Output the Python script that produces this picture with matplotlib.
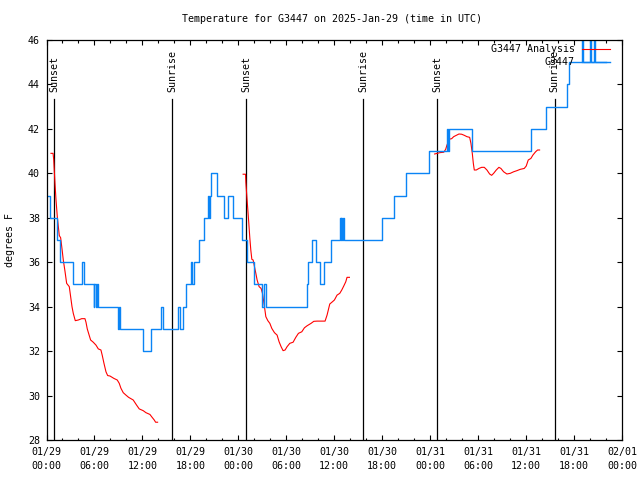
import matplotlib
matplotlib.use('Agg')
import matplotlib.pyplot as plt
import matplotlib.dates as mdates
from datetime import datetime, timedelta

plt.rcParams['font.family'] = 'DejaVu Sans Mono'
plt.rcParams['font.size'] = 7.2

base = datetime(2025, 1, 29)

# observed temperature (hours after 01/29 00:00 UTC, value held until next change)
obs_h = [0.23, 0.5, 1.3, 1.75, 3.3, 4.45, 4.65, 5.9, 6.0, 6.2, 6.3, 6.45,
         8.9, 9.05, 9.2, 12.1, 13.1, 14.35, 14.55, 16.4, 16.7, 17.1, 17.4,
         18.05, 18.25, 18.45, 19.1, 19.7, 19.9, 20.15, 20.3, 20.45, 20.6,
         21.35, 22.2, 22.75, 23.3, 24.45, 25.05, 25.95, 26.9, 27.25, 27.42,
         32.55, 32.75, 33.2, 33.7, 34.2, 34.73, 35.6, 36.7, 36.8, 36.9, 37.0,
         37.1, 37.25, 42.0, 43.45, 44.95, 47.85, 50.05, 50.25, 50.4, 53.2,
         60.65, 62.55, 65.1, 65.35, 66.95, 67.1, 67.95, 68.1, 68.45, 68.6, 70.0]
obs_t = [39, 38, 37, 36, 35, 36, 35, 34, 35, 34, 35, 34,
         33, 34, 33, 32, 33, 34, 33, 34, 33, 34, 35,
         36, 35, 36, 37, 38, 38, 39, 38, 39, 40,
         39, 38, 39, 38, 37, 36, 35, 34, 35, 34,
         35, 36, 37, 36, 35, 36, 37, 38, 37, 38, 37,
         38, 37, 38, 39, 40, 41, 42, 41, 42, 41,
         42, 43, 44, 45, 47, 45, 47, 45, 47, 45, 45]

# analysis temperature, one segment per night
ana1_h = [0.56, 0.82, 0.9, 1.06, 1.19, 1.35, 1.48, 1.6, 1.77, 1.94, 2.1, 2.31,
          2.52, 2.85, 3.02, 3.19, 3.35, 3.6, 3.98, 4.4, 4.81, 4.94, 5.1, 5.35,
          5.52, 5.85, 6.19, 6.48, 6.81, 6.98, 7.19, 7.44, 7.65, 7.94, 8.44,
          8.85, 9.1, 9.31, 9.6, 9.94, 10.27, 10.85, 11.27, 11.6, 12.1, 12.44,
          12.94, 13.15, 13.48, 13.65, 13.9]
ana1_t = [40.9, 40.9, 40.63, 39.55, 38.8, 38.05, 37.6, 37.2, 37.1, 36.6, 36.1,
          35.6, 35.05, 34.9, 34.45, 34.0, 33.7, 33.37, 33.4, 33.46, 33.46, 33.3,
          33.0, 32.7, 32.5, 32.4, 32.27, 32.1, 32.05, 31.8, 31.45, 31.07, 30.9,
          30.88, 30.77, 30.7, 30.55, 30.33, 30.13, 30.02, 29.92, 29.8, 29.57,
          29.4, 29.32, 29.23, 29.15, 29.05, 28.9, 28.8, 28.8]
ana2_h = [24.6, 24.9, 24.94, 25.06, 25.19, 25.31, 25.44, 25.56, 25.69, 25.85,
          26.02, 26.19, 26.35, 26.6, 26.85, 27.02, 27.27, 27.44, 27.69, 27.94,
          28.19, 28.52, 28.85, 29.1, 29.35, 29.6, 29.85, 30.1, 30.44, 30.85,
          31.19, 31.52, 31.94, 32.27, 32.6, 33.1, 33.44, 33.85, 34.85, 35.1,
          35.44, 35.77, 36.02, 36.35, 36.69, 36.94, 37.19, 37.44, 37.6, 37.9]
ana2_t = [39.96, 39.96, 39.6, 38.98, 38.35, 37.75, 37.08, 36.55, 36.13, 36.1,
          35.8, 35.5, 35.2, 34.9, 34.82, 34.6, 34.0, 33.55, 33.37, 33.25,
          33.02, 32.83, 32.72, 32.42, 32.2, 32.02, 32.05, 32.2, 32.35, 32.4,
          32.62, 32.8, 32.87, 33.05, 33.14, 33.25, 33.34, 33.35, 33.35, 33.62,
          34.12, 34.22, 34.3, 34.52, 34.6, 34.75, 34.93, 35.12, 35.32, 35.32]
ana3_h = [48.56, 49.2, 49.7, 49.94, 50.1, 50.27, 50.44, 50.69, 50.94, 51.27,
          51.6, 51.94, 52.27, 52.6, 52.94, 53.1, 53.27, 53.4, 53.52, 53.77,
          54.1, 54.44, 54.77, 55.1, 55.44, 55.69, 55.94, 56.27, 56.6, 56.85,
          57.19, 57.6, 58.02, 58.44, 58.85, 59.27, 59.77, 60.02, 60.27, 60.6,
          60.85, 61.19, 61.44, 61.69]
ana3_t = [40.87, 40.93, 40.95, 41.08, 41.27, 41.42, 41.54, 41.56, 41.65, 41.71,
          41.77, 41.76, 41.71, 41.65, 41.62, 41.35, 40.9, 40.45, 40.15, 40.15,
          40.22, 40.27, 40.27, 40.15, 39.97, 39.91, 40.0, 40.15, 40.27, 40.22,
          40.07, 39.97, 40.0, 40.07, 40.12, 40.18, 40.22, 40.33, 40.6, 40.67,
          40.82, 40.97, 41.05, 41.05]

sun_h = [0.98, 15.75, 24.98, 39.6, 48.87, 63.6]
sun_label = ['Sunset', 'Sunrise', 'Sunset', 'Sunrise', 'Sunset', 'Sunrise']

blue = '#0a84f5'
red = '#ff0000'


def to_dt(hours):
    return [base + timedelta(hours=h) for h in hours]


fig = plt.figure(figsize=(6.4, 4.8), dpi=100)
ax = fig.add_axes([46.5 / 640, 40 / 480, 575.5 / 640, 400 / 480])

for h, lab in zip(sun_h, sun_label):
    t = base + timedelta(hours=h)
    ax.axvline(t, ymin=0, ymax=0.852, color='black', lw=0.9)
    ax.text(t, 0.87, lab, rotation=90, ha='center', va='bottom',
            transform=ax.get_xaxis_transform())

for hh, tt in [(ana1_h, ana1_t), (ana2_h, ana2_t), (ana3_h, ana3_t)]:
    ax.plot(to_dt(hh), tt, color=red, lw=0.8)

ax.plot(to_dt(obs_h), obs_t, drawstyle='steps-post', color=blue, lw=1.0)

# gnuplot-style key, text right-aligned left of the sample line
ax.text(0.918, 0.9775, 'G3447 Analysis', ha='right', va='center', transform=ax.transAxes)
ax.plot([0.9305, 0.979], [0.9775, 0.9775], color=red, lw=0.8, transform=ax.transAxes)
ax.text(0.918, 0.945, 'G3447', ha='right', va='center', transform=ax.transAxes)
ax.plot([0.9305, 0.979], [0.945, 0.945], color=blue, lw=1.0, transform=ax.transAxes)

ax.set_xlim(base, base + timedelta(hours=72))
ax.set_ylim(28, 46)
ax.set_yticks(range(28, 47, 2))
ax.xaxis.set_major_locator(mdates.HourLocator(byhour=range(0, 24, 6)))
ax.xaxis.set_minor_locator(mdates.HourLocator(byhour=range(0, 24, 2)))
ax.xaxis.set_major_formatter(mdates.DateFormatter('%m/%d\n%H:%M'))
for lab in ax.get_xticklabels():
    lab.set_linespacing(1.45)
ax.tick_params(which='both', direction='in', top=True, right=True, width=0.8)
ax.tick_params(which='major', length=3.6)
ax.tick_params(which='minor', length=1.8)
ax.tick_params(axis='y', pad=4.7)
ax.tick_params(axis='x', pad=5)
for s in ax.spines.values():
    s.set_linewidth(0.9)

fig.text(332 / 640, 1 - 19 / 480, 'Temperature for G3447 on 2025-Jan-29 (time in UTC)',
         ha='center', va='center')
fig.text(10 / 640, 0.5, 'degrees F', rotation=90, ha='center', va='center')

fig.savefig('out.png', dpi=100)
plt.close(fig)
